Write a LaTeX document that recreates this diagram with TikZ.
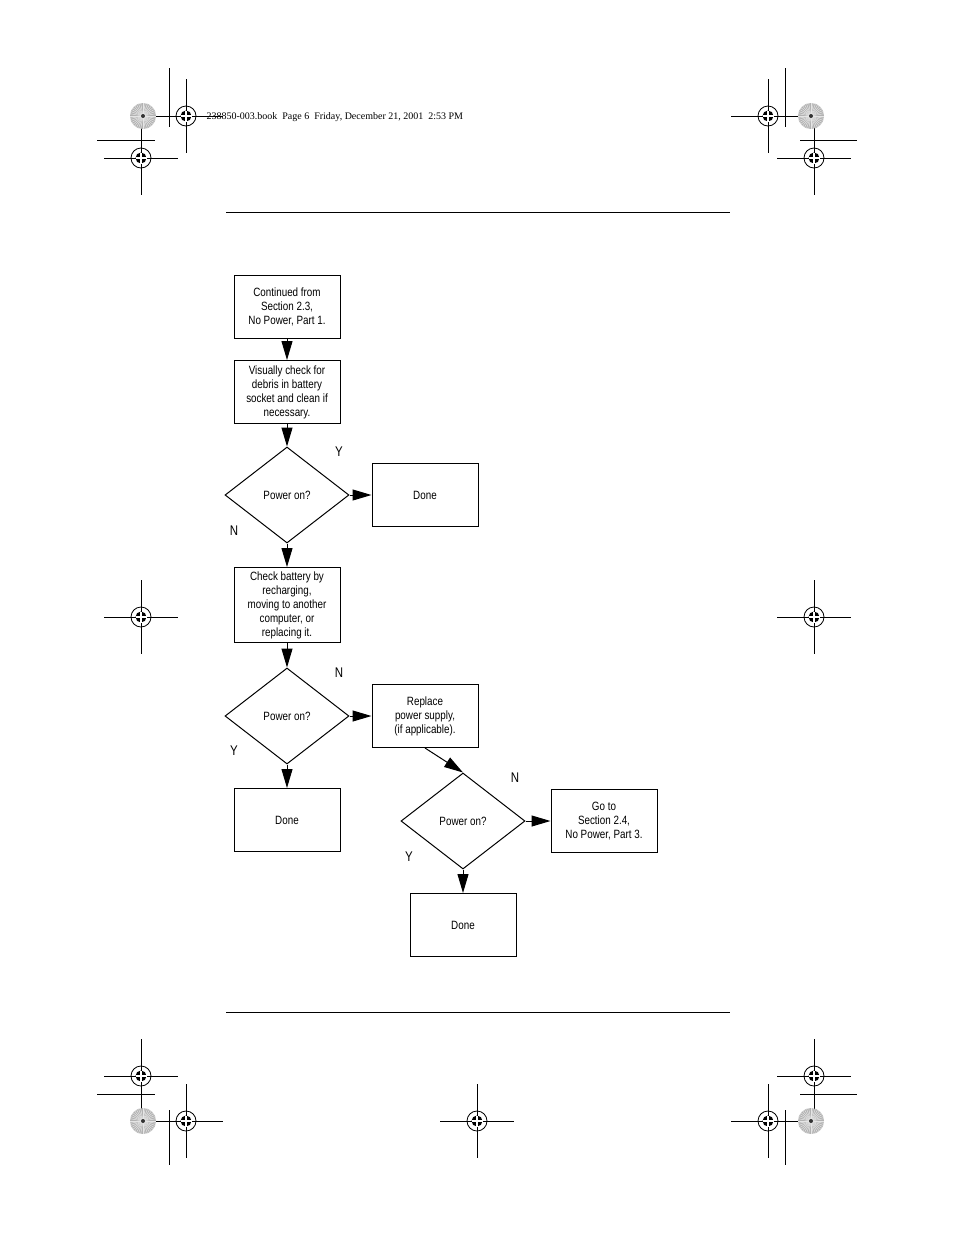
\documentclass[tikz,border=0pt]{standalone}
\usepackage{fontspec}
\setmainfont{Liberation Sans}[FakeStretch=0.82]
\newfontfamily\serifhdr{Liberation Serif}
\usetikzlibrary{shapes.geometric,arrows.meta}
\begin{document}
\begin{tikzpicture}[x=1pt,y=-1pt,
  box/.style={draw,line width=1pt,minimum width=106pt,minimum height=63pt,inner sep=1pt,align=center,font=\fontsize{12}{14}\selectfont},
  dia/.style={draw,line width=1pt,diamond,minimum width=124pt,minimum height=96pt,aspect=1.29,inner sep=0pt,font=\fontsize{12}{14}\selectfont},
  arr/.style={line width=1pt,-{Triangle[length=19pt,width=11pt]}},
  lab/.style={font=\fontsize{14}{16}\selectfont},
  reg/.style={line width=0.8pt}]
\useasboundingbox (0,0) rectangle (954,1235);
% header / footer
\node[anchor=west,font=\serifhdr\fontsize{10}{12}\selectfont] (hdr) at (203,117) {238850-003.book\ \ Page 6\ \ Friday, December 21, 2001\ \ 2:53 PM};
\draw[line width=0.8pt] (226,212) -- (730,212);
\draw[line width=0.8pt] (226,1012) -- (730,1012);
% registration marks
\foreach \x/\y in {186/116,768/116,141/158,814/158,141/617,814/617,141/1076,814/1076,186/1121,477/1121,768/1121}{
  \draw[reg] (\x-37,\y) -- (\x+37,\y) (\x,\y-37) -- (\x,\y+37);
  \draw[reg] (\x,\y) circle (10);
  \fill (\x,\y) circle (5.5);
  \fill[white] (\x-5.5,\y-0.6) rectangle (\x+5.5,\y+0.6);
  \fill[white] (\x-0.6,\y-5.5) rectangle (\x+0.6,\y+5.5);
}
\foreach \x/\y in {143/116,811/116,143/1121,811/1121}{
  \fill[gray!60] (\x,\y) circle (13);
  \foreach \a in {0,10,...,350}{\draw[gray!20,line width=0.5pt] (\x,\y) -- ++(\a:13);}
  \fill[gray!40!black] (\x,\y) circle (2);
}
\draw[reg] (169,68) -- (169,127) (97,140) -- (155,140);
\draw[reg] (785,68) -- (785,127) (800,140) -- (857,140);
\draw[reg] (169,1110) -- (169,1165) (97,1094) -- (155,1094);
\draw[reg] (785,1110) -- (785,1165) (800,1094) -- (857,1094);
% flowchart
\node[box] (b1) at (287,307) {Continued from\\Section 2.3,\\No Power, Part 1.};
\node[box] (b2) at (287,392) {Visually check for\\debris in battery\\socket and clean if\\necessary.};
\node[dia] (d1) at (287,495) {Power on?};
\node[box] (done1) at (425,495) {Done};
\node[box,minimum height=75pt] (b3) at (287,605) {Check battery by\\recharging,\\moving to another\\computer, or\\replacing it.};
\node[dia] (d2) at (287,716) {Power on?};
\node[box] (rep) at (425,716) {Replace\\power supply,\\(if applicable).};
\node[box] (done2) at (287,820) {Done};
\node[dia] (d3) at (463,821) {Power on?};
\node[box] (goto) at (604,821) {Go to\\Section 2.4,\\No Power, Part 3.};
\node[box] (done3) at (463,925) {Done};
\draw[arr] (b1) -- (b2);
\draw[arr] (b2) -- (d1);
\draw[arr] (d1.east) -- (done1.west);
\draw[arr] (d1.south) -- (b3.north);
\draw[arr] (b3) -- (d2);
\draw[arr] (d2.east) -- (rep.west);
\draw[arr] (d2.south) -- (done2.north);
\draw[arr] (rep.south) -- (d3.north);
\draw[arr] (d3.east) -- (goto.west);
\draw[arr] (d3.south) -- (done3.north);
\node[lab] (y1) at (339,452) {Y};
\node[lab] (n1) at (234,531) {N};
\node[lab] (n2) at (339,673) {N};
\node[lab] (y2) at (234,751) {Y};
\node[lab] (n3) at (515,778) {N};
\node[lab] (y3) at (409,857) {Y};
\end{tikzpicture}
\end{document}
